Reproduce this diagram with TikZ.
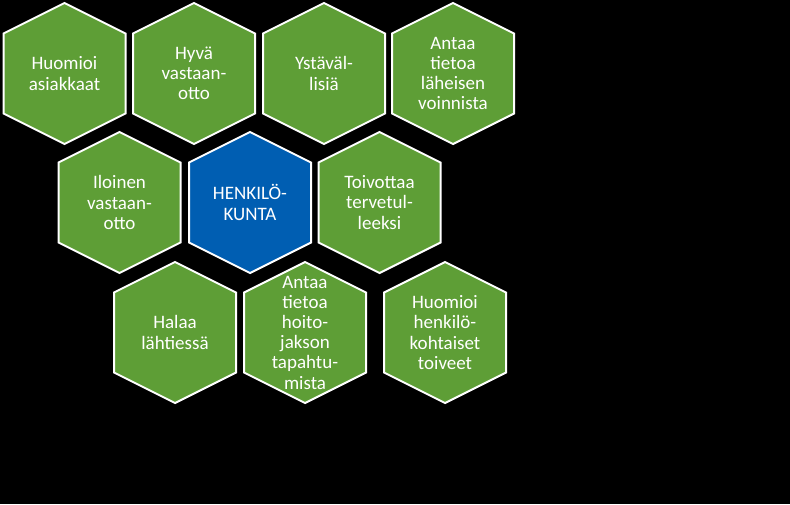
\documentclass[tikz,border=0pt]{standalone}
\usepackage{fontspec}
\setmainfont{Carlito}
\usetikzlibrary{backgrounds}

\definecolor{leafgreen}{RGB}{94,158,54}
\definecolor{staffblue}{RGB}{0,94,178}

\tikzset{
  hexfill/.style = {fill=#1, draw=white, line width=2pt, line join=miter},
  hexlabel/.style = {text=white, align=center, inner sep=0pt,
                     font=\fontsize{19}{20.2}\selectfont}
}

% hexagon around a named centre: point on top and bottom
\newcommand{\hexcell}[2]{%
  \draw[hexfill=#2] (#1.center) ++(0,-70.5) -- ++(61,30.5) -- ++(0,80)
    -- ++(-61,30.5) -- ++(-61,-30.5) -- ++(0,-80) -- cycle;}

\begin{document}
\begin{tikzpicture}[x=1pt, y=-1pt]
    \useasboundingbox (0,0) rectangle (790,504);

    \node[hexlabel] (1) at (64.5,73.5) {Huomioi\\asiakkaat};
    \node[hexlabel] (2) at (194,73.5) {Hyvä\\vastaan-\\otto};
    \node[hexlabel] (3) at (324,73.5) {Ystäväl-\\lisiä};
    \node[hexlabel] (4) at (453,73.5) {Antaa\\tietoa\\läheisen\\voinnista};
    \node[hexlabel] (5) at (119.5,202.5) {Iloinen\\vastaan-\\otto};
    \node[hexlabel] (6) at (250,202.5) {HENKILÖ-\\KUNTA};
    \node[hexlabel] (7) at (379.5,202.5) {Toivottaa\\tervetul-\\leeksi};
    \node[hexlabel] (8) at (175,332.5) {Halaa\\lähtiessä};
    \node[hexlabel] (9) at (305,332.5) {Antaa\\tietoa\\hoito-\\jakson\\tapahtu-\\mista};
    \node[hexlabel] (10) at (445,332.5) {Huomioi\\henkilö-\\kohtaiset\\toiveet};

    \begin{scope}[on background layer]
      \fill[black] (0,0) rectangle (790,504);
      \foreach \n in {1,2,3,4,5,7,8,9,10}
        \hexcell{\n}{leafgreen};
      \hexcell{6}{staffblue}
    \end{scope}
\end{tikzpicture}
\end{document}
